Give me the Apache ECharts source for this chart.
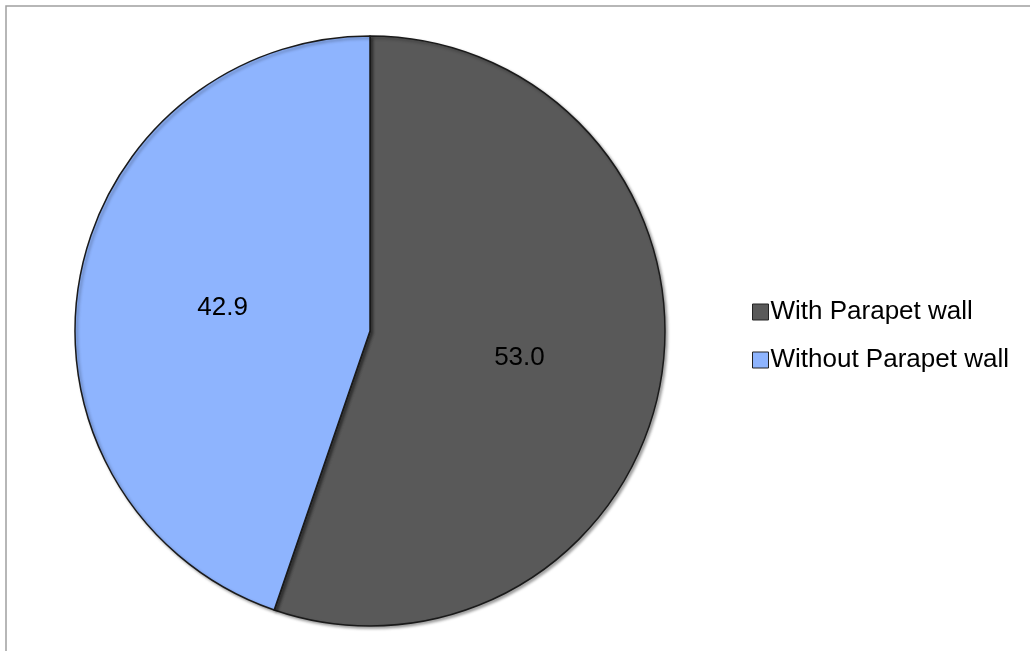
<!DOCTYPE html>
<html>
<head>
<meta charset="utf-8">
<script src="https://cdn.jsdelivr.net/npm/echarts@6/dist/echarts.min.js"></script>
<style>
  html, body { margin: 0; padding: 0; background: #ffffff; }
  #chart { width: 1030px; height: 651px; }
</style>
</head>
<body>
<div id="chart"></div>
<script>
// Share of each configuration
const categories = ['With Parapet wall', 'Without Parapet wall'];
const values = [53.0, 42.9];
const colors = ['#595959', '#8EB4FE'];

const chart = echarts.init(document.getElementById('chart'));

const pieData = categories.map((name, i) => ({
  name: name,
  value: values[i],
  itemStyle: { color: colors[i] }
}));

chart.setOption({
  animation: false,
  backgroundColor: '#ffffff',
  graphic: [{
    type: 'rect',
    shape: { x: 6, y: 6, width: 1100, height: 700 },
    style: { fill: 'none', stroke: '#a0a0a0', lineWidth: 1.5 },
    silent: true
  }],
  legend: {
    orient: 'vertical',
    left: 747,
    top: 294,
    itemWidth: 16,
    itemHeight: 16,
    itemGap: 22,
    icon: 'rect',
    data: categories,
    itemStyle: { borderColor: '#222222', borderWidth: 1 },
    textStyle: {
      fontFamily: 'Liberation Sans, Arial, sans-serif',
      fontSize: 26,
      lineHeight: 26,
      color: '#000000',
      padding: [0, 0, 0, -3]
    }
  },
  series: [{
    type: 'pie',
    center: [370, 331],
    radius: [0, 295],
    startAngle: 90,
    clockwise: true,
    data: pieData,
    itemStyle: {
      borderColor: '#1a1a1a',
      borderWidth: 1.5,
      shadowColor: 'rgba(0,0,0,0.35)',
      shadowBlur: 3,
      shadowOffsetX: 2,
      shadowOffsetY: 2
    },
    label: {
      show: true,
      position: 'inside',
      offset: [1, 2],
      formatter: p => p.value.toFixed(1),
      fontFamily: 'Liberation Sans, Arial, sans-serif',
      fontSize: 26,
      color: '#000000'
    },
    labelLine: { show: false },
    emphasis: { disabled: true }
  }]
});
</script>
</body>
</html>
